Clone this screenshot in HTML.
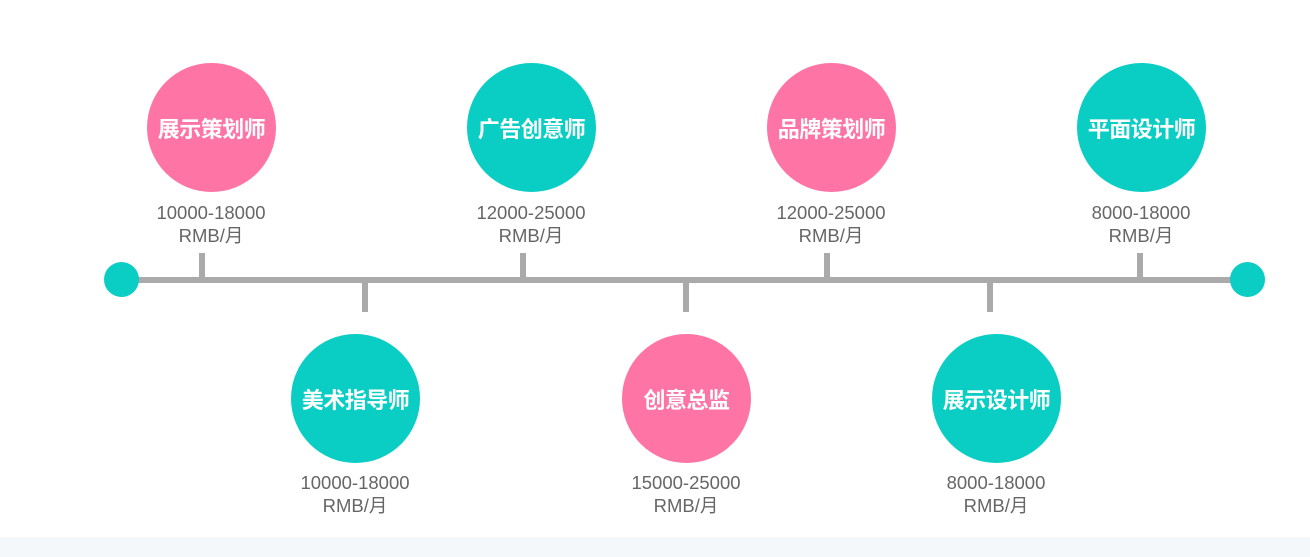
<!DOCTYPE html>
<html><head><meta charset="utf-8"><style>
body{margin:0;width:1310px;height:557px;background:#fff;position:relative;overflow:hidden;font-family:"Liberation Sans","Noto Sans CJK SC",sans-serif}
.c{position:absolute;width:129px;height:129px;border-radius:50%;color:#fff;font-weight:bold;font-size:22px;display:flex;align-items:center;justify-content:center;font-family:"Noto Sans CJK SC","Liberation Sans",sans-serif;letter-spacing:-0.5px}
.p{background:#fe74a5}.t{background:#0acec4}
.l{position:absolute;width:200px;text-align:center;color:#666;font-size:18.5px;line-height:23px}
.v{position:absolute;width:6px;background:#aaa}
.d{position:absolute;width:35px;height:35px;border-radius:50%;background:#0acec4}
</style></head><body>
<div style="position:absolute;left:0;top:537px;width:1310px;height:20px;background:#f4f8fb"></div>
<div style="position:absolute;left:120px;top:277px;width:1120px;height:6px;background:#aaa"></div>
<div class="d" style="left:104px;top:262px"></div>
<div class="d" style="left:1230px;top:262px"></div>
<div class="v" style="left:199px;top:253px;height:26px"></div>
<div class="v" style="left:520px;top:253px;height:26px"></div>
<div class="v" style="left:824px;top:253px;height:26px"></div>
<div class="v" style="left:1137px;top:253px;height:26px"></div>
<div class="v" style="left:362px;top:281px;height:31px"></div>
<div class="v" style="left:683px;top:281px;height:31px"></div>
<div class="v" style="left:987px;top:281px;height:31px"></div>

<div class="c p" style="left:147px;top:63px">展示策划师</div>
<div class="c t" style="left:467px;top:63px">广告创意师</div>
<div class="c p" style="left:767px;top:63px">品牌策划师</div>
<div class="c t" style="left:1077px;top:63px">平面设计师</div>
<div class="c t" style="left:291px;top:334px">美术指导师</div>
<div class="c p" style="left:622px;top:334px">创意总监</div>
<div class="c t" style="left:932px;top:334px">展示设计师</div>

<div class="l" style="left:111px;top:201px">10000-18000<br>RMB/月</div>
<div class="l" style="left:431px;top:201px">12000-25000<br>RMB/月</div>
<div class="l" style="left:731px;top:201px">12000-25000<br>RMB/月</div>
<div class="l" style="left:1041px;top:201px">8000-18000<br>RMB/月</div>
<div class="l" style="left:255px;top:471px">10000-18000<br>RMB/月</div>
<div class="l" style="left:586px;top:471px">15000-25000<br>RMB/月</div>
<div class="l" style="left:896px;top:471px">8000-18000<br>RMB/月</div>
</body></html>
